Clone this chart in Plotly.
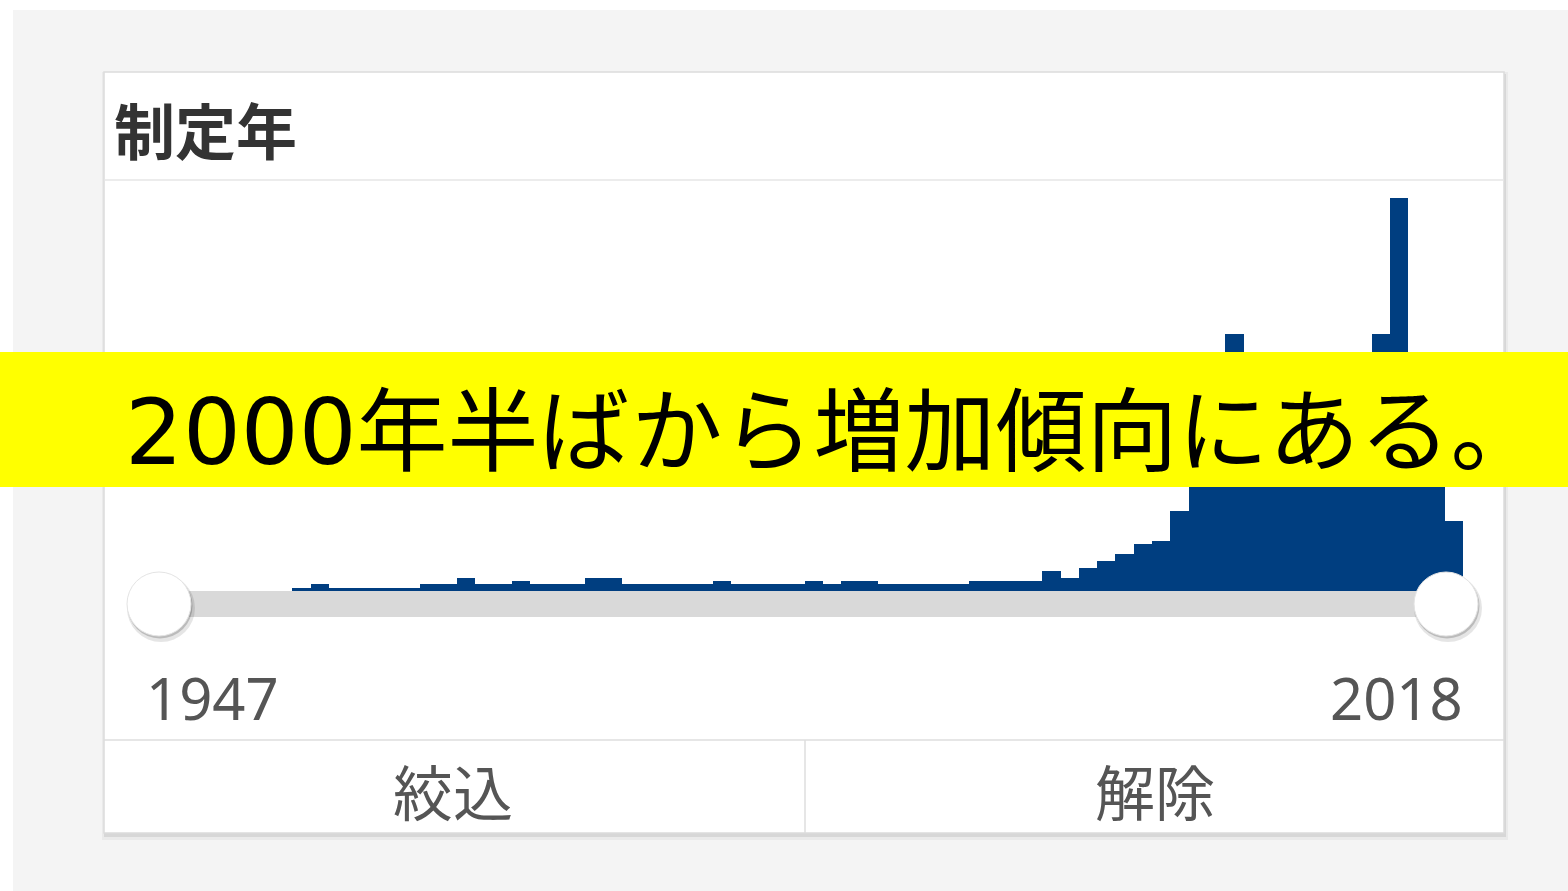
import plotly.graph_objects as go

# ---- data ----
years = list(range(1947, 2019))
counts = [
    0, 0, 0, 0, 0, 0, 0, 0,          # 1947-1954
    1, 2, 1, 1, 1, 1, 1,             # 1955-1961
    2, 2, 4, 2, 2, 3,                # 1962-1967
    2, 2, 2, 4, 4,                   # 1968-1972
    2, 2, 2, 2, 2, 3,                # 1973-1978
    2, 2, 2, 2, 3, 2, 3, 3,          # 1979-1986
    2, 2, 2, 2, 2,                   # 1987-1991
    3, 3, 3, 3, 6, 4, 7, 9,          # 1992-1999
    11, 14, 15, 24, 35, 46, 77,      # 2000-2006
    56, 54, 50, 55, 58, 60, 64,      # 2007-2013
    77, 118, 62, 58, 21,             # 2014-2018
]
title_text = "制定年"
min_label = "1947"
max_label = "2018"
btn_apply = "絞込"
btn_clear = "解除"
banner_num = "2000"
banner_rest = "年半ばから増加傾向にある。"

W, H = 1568, 891


def px(x):
    return x / W


def py(y):
    return 1 - y / H


BAR_COLOR = "#003e80"

fig = go.Figure()
fig.add_trace(go.Bar(
    x=years, y=counts,
    marker=dict(color=BAR_COLOR, line=dict(width=0)),
    hoverinfo="x+y",
))

shapes = []


def rect(x0, y0, x1, y1, fill, line=None, layer="below", lw=0):
    shapes.append(dict(
        type="rect", xref="paper", yref="paper",
        x0=px(x0), x1=px(x1), y0=py(y1), y1=py(y0),
        fillcolor=fill, line=dict(color=line or fill, width=lw),
        layer=layer,
    ))


def hline(x0, x1, y, color, layer="below", w=1.5):
    shapes.append(dict(type="line", xref="paper", yref="paper",
                       x0=px(x0), x1=px(x1), y0=py(y), y1=py(y),
                       line=dict(color=color, width=w), layer=layer))


def vline(x, y0, y1, color, layer="below", w=1.5):
    shapes.append(dict(type="line", xref="paper", yref="paper",
                       x0=px(x), x1=px(x), y0=py(y0), y1=py(y1),
                       line=dict(color=color, width=w), layer=layer))


def circle(cx, cy, r, fill, line, layer="above", lw=1):
    shapes.append(dict(type="circle", xref="paper", yref="paper",
                       x0=px(cx - r), x1=px(cx + r), y0=py(cy + r), y1=py(cy - r),
                       fillcolor=fill, line=dict(color=line, width=lw), layer=layer))


# page background
rect(13, 10, W, H, "#f4f4f4")
# card shadow
rect(102, 72, 1508, 840, "rgba(0,0,0,0.04)")
rect(104, 74, 1506, 837, "rgba(0,0,0,0.08)")
# card
rect(104, 72, 1504, 833, "#ffffff", line="#dcdcdc", lw=1.5)
hline(104, 1504, 180, "#e6e6e6")
hline(104, 1504, 740, "#dedede")
vline(805, 740, 833, "#dedede")

# slider track
rect(160, 591, 1447, 617, "#d9d9d9", layer="above")
# handles
for cx in (159, 1446):
    circle(cx + 2, 608, 34, "rgba(0,0,0,0.10)", "rgba(0,0,0,0)", lw=0)
    circle(cx + 1, 606, 32.5, "rgba(0,0,0,0.18)", "rgba(0,0,0,0)", lw=0)
    circle(cx, 604, 32, "#ffffff", "#e4e4e4", lw=1)

# banner
rect(0, 352, W, 487, "#ffff00", layer="above")

banner_html = ('<span style="font-family:\'DejaVu Sans\'">' + banner_num + '</span>'
               + banner_rest)

annotations = [
    dict(text="<b>" + title_text + "</b>", x=px(112), y=py(128), xanchor="left", yanchor="middle",
         font=dict(family="Noto Sans CJK JP", size=61, color="#333333"),
         showarrow=False, xref="paper", yref="paper"),
    dict(text=min_label, x=px(144), y=py(697), xanchor="left", yanchor="middle",
         font=dict(family="Noto Sans", size=58, color="#555555"),
         showarrow=False, xref="paper", yref="paper"),
    dict(text=max_label, x=px(1465), y=py(697), xanchor="right", yanchor="middle",
         font=dict(family="Noto Sans", size=58, color="#555555"),
         showarrow=False, xref="paper", yref="paper"),
    dict(text=btn_apply, x=px(453), y=py(789), xanchor="center", yanchor="middle",
         font=dict(family="Noto Sans CJK JP", size=60, color="#555555"),
         showarrow=False, xref="paper", yref="paper"),
    dict(text=btn_clear, x=px(1155), y=py(789), xanchor="center", yanchor="middle",
         font=dict(family="Noto Sans CJK JP", size=60, color="#555555"),
         showarrow=False, xref="paper", yref="paper"),
    dict(text=banner_html, x=px(123), y=py(424), xanchor="left", yanchor="middle",
         font=dict(family="Noto Sans CJK JP", size=91, color="#000000"),
         showarrow=False, xref="paper", yref="paper"),
]

fig.update_layout(
    width=W, height=H, autosize=False,
    margin=dict(l=0, r=0, t=0, b=0, pad=0),
    paper_bgcolor="#ffffff", plot_bgcolor="rgba(0,0,0,0)",
    showlegend=False, bargap=0,
    xaxis=dict(domain=[px(146), px(1463)], range=[1946.5, 2018.5],
               visible=False, fixedrange=True),
    yaxis=dict(domain=[py(591), py(191)], range=[0, 120],
               visible=False, fixedrange=True),
    shapes=shapes, annotations=annotations,
)

fig.write_html("out.html", config={"displayModeBar": False})
